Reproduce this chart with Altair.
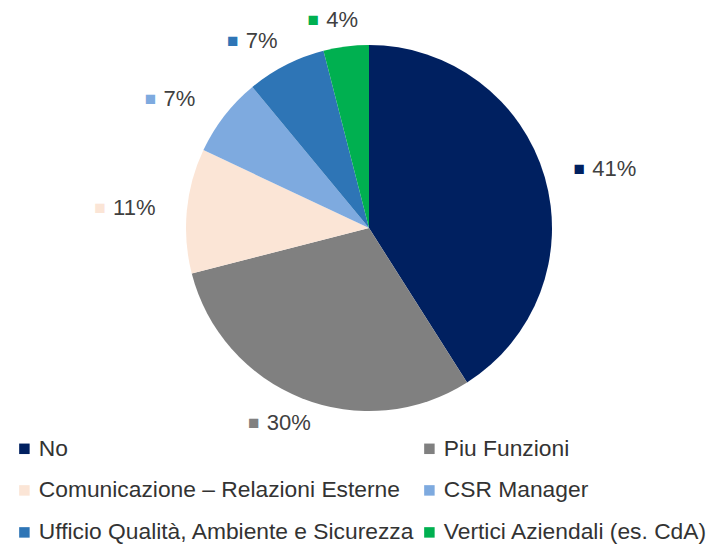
import altair as alt
import pandas as pd

categories = ["No", "Piu Funzioni", "Comunicazione – Relazioni  Esterne", "CSR Manager",
              "Ufficio Qualità, Ambiente e Sicurezza", "Vertici Aziendali (es. CdA)"]
values = [41, 30, 11, 7, 7, 4]
colors = ["#002060", "#808080", "#FBE5D6", "#7EAADF", "#2E75B6", "#00B050"]

df = pd.DataFrame({"cat": categories, "value": values, "order": list(range(len(categories)))})

color_scale = alt.Scale(domain=categories, range=colors)
FONT = "Liberation Sans"
W, H = 711, 536
CX, CY = 361, 220  # pie centre inside the view

xscale = alt.Scale(domain=[-CX, W - CX])
yscale = alt.Scale(domain=[-(H - CY), CY])

base = alt.Chart(df)

pie = base.mark_arc(outerRadius=183, stroke=None).encode(
    x=alt.X(datum=0, scale=xscale, axis=None),
    y=alt.Y(datum=0, scale=yscale, axis=None),
    theta=alt.Theta("value:Q", stack=True),
    order=alt.Order("order:Q"),
    color=alt.Color(
        "cat:N", scale=color_scale, sort=categories,
        legend=alt.Legend(
            title=None, orient="none", legendX=5, legendY=429, columns=2,
            direction="horizontal",
            symbolType="square", symbolSize=110, symbolStrokeWidth=0,
            labelFont=FONT, labelFontSize=22.8, labelColor="#333333",
            labelLimit=600, labelOffset=3, rowPadding=18, columnPadding=3,
            padding=0,
        ),
    ),
)

lab = base.transform_joinaggregate(total="sum(value)").transform_window(
    cum="sum(value)", sort=[alt.SortField("order")], frame=[None, 0]
).transform_calculate(
    mid="(datum.cum - datum.value/2) / datum.total * 2 * PI",
    lx="245 * sin(datum.mid)",
    ly="210 * cos(datum.mid)",
    pct="datum.value + '%'",
    sq="'■'",
)

xs = alt.X("lx:Q", scale=xscale, axis=None)
ys = alt.Y("ly:Q", scale=yscale, axis=None)

markers = lab.mark_text(font=FONT, fontSize=19, align="center", baseline="middle", dx=-25, dy=0).encode(
    x=xs, y=ys, text="sq:N",
    color=alt.Color("cat:N", scale=color_scale, legend=None),
)
texts = lab.mark_text(font=FONT, fontSize=22, align="left", baseline="middle", dx=-12, color="#404040").encode(
    x=xs, y=ys, text="pct:N",
)

chart = alt.layer(pie, markers, texts).properties(
    width=W, height=H, padding=0, autosize=alt.AutoSizeParams(type="none")
).configure_view(stroke=None)

chart.save("out.html", embed_options={"renderer": "svg", "actions": False})
